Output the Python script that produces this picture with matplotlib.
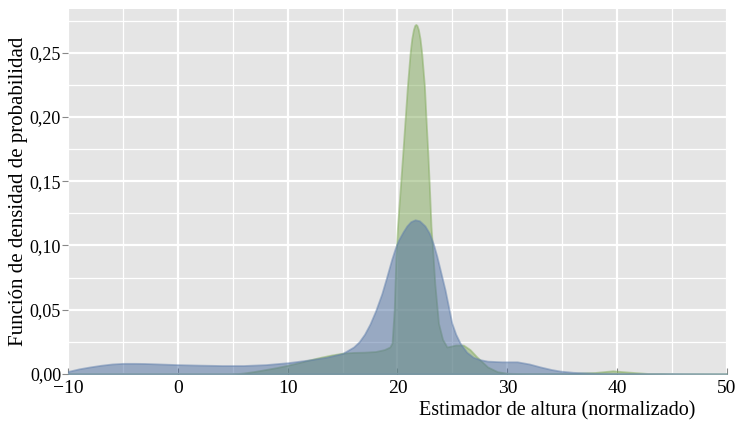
import numpy as np
import matplotlib
matplotlib.use("Agg")
import matplotlib.pyplot as plt
from matplotlib.ticker import MultipleLocator, FuncFormatter

# curvas de densidad
x_azul = [-10, -9, -8, -7, -6, -5, -4, -3, -2, -1, 0, 2, 4, 6, 8, 10, 12, 13.5, 15,
          16, 16.5, 17, 17.5, 18, 18.57, 19, 19.48, 19.8, 20.08, 20.5, 20.85, 21.2, 21.6,
          22.0, 22.5, 22.9, 23.27, 23.57, 24.0, 24.33, 24.65, 24.94, 25.3, 25.7, 26.3,
          26.9, 27.5, 28.2, 29.5, 30.9, 32, 33, 34, 34.8, 36, 38, 42, 46, 50]
y_azul = [0.002, 0.004, 0.0055, 0.0068, 0.0078, 0.0083, 0.0083, 0.0082, 0.0079, 0.0076,
          0.0073, 0.0069, 0.0066, 0.0066, 0.0073, 0.0088, 0.011, 0.013, 0.016,
          0.021, 0.025, 0.031, 0.039, 0.049, 0.0625, 0.075, 0.0895, 0.098, 0.104, 0.1105,
          0.1152, 0.1185, 0.12, 0.1192, 0.1152, 0.1095, 0.101, 0.092, 0.077, 0.0654,
          0.052, 0.0397, 0.031, 0.024, 0.017, 0.013, 0.0112, 0.010, 0.0095, 0.0095,
          0.0078, 0.0055, 0.0035, 0.0023, 0.0013, 0.0006, 0.0003, 0.0001, 0.0]

x_verde = [-10, 5, 6, 7, 8, 9, 10, 11, 12, 13, 14, 15, 16, 17, 18, 18.8, 19.3, 19.5,
           19.7, 19.85, 20.0, 20.24, 20.48, 20.69, 20.9, 21.15, 21.3, 21.45, 21.57, 21.67,
           21.77, 21.9, 22.05, 22.2, 22.45, 22.6, 22.76, 22.9, 23.05, 23.2, 23.4, 23.73,
           24.1, 24.5, 25.3, 26.0, 26.6, 27.2, 28.2, 29.1, 30, 32, 35, 38, 39.6, 41, 43,
           45, 50]
y_verde = [0.0, 0.0, 0.0008, 0.002, 0.0035, 0.005, 0.0068, 0.0088, 0.011, 0.013, 0.0148,
           0.0162, 0.0168, 0.017, 0.0175, 0.019, 0.021, 0.024, 0.05, 0.09, 0.115, 0.143,
           0.172, 0.198, 0.224, 0.25, 0.261, 0.268, 0.2712, 0.272, 0.2712, 0.268, 0.261,
           0.25, 0.224, 0.198, 0.172, 0.146, 0.115, 0.0966, 0.07, 0.0395, 0.027, 0.021,
           0.0225, 0.0225, 0.019, 0.0135, 0.0055, 0.0018, 0.0006, 0.0002, 0.0002, 0.0012,
           0.0025, 0.0015, 0.0003, 0.0, 0.0]

fuente = "Liberation Serif"
plt.rcParams['font.family'] = [fuente, 'DejaVu Serif']
plt.rcParams['axes.unicode_minus'] = True

fig = plt.figure(figsize=(7.39, 4.23), dpi=100)
ax = fig.add_axes([68/739, 1 - 374/423, 659/739, 365/423])
ax.set_facecolor('#e5e5e5')

verde = (0.51, 0.67, 0.36)
azul = (0.30, 0.43, 0.63)
ax.fill_between(x_verde, y_verde, 0, facecolor=verde, alpha=0.5,
                edgecolor=(0.51, 0.67, 0.36, 0.55), linewidth=1.3, zorder=3)
ax.fill_between(x_azul, y_azul, 0, facecolor=azul, alpha=0.5,
                edgecolor=(0.38, 0.50, 0.68, 0.7), linewidth=1.3, zorder=4)

ax.set_xlim(-10, 50)
ax.set_ylim(0, 0.284)

ax.xaxis.set_major_locator(MultipleLocator(10))
ax.xaxis.set_minor_locator(MultipleLocator(5))
ax.yaxis.set_major_locator(MultipleLocator(0.05))
ax.yaxis.set_minor_locator(MultipleLocator(0.025))
ax.yaxis.set_major_formatter(FuncFormatter(lambda v, p: f"{v:.2f}".replace('.', ',')))
ax.xaxis.set_major_formatter(FuncFormatter(lambda v, p: f"{int(round(v))}".replace('-', '\u2212')))

ax.grid(which='major', color='white', linewidth=1.6, zorder=1)
ax.grid(which='minor', color='white', linewidth=0.9, zorder=1)
ax.set_axisbelow(True)

for s in ax.spines.values():
    s.set_visible(False)

ax.tick_params(axis='x', which='major', direction='in', length=4, color='#888888',
               labelsize=14, pad=4)
ax.tick_params(axis='y', which='major', direction='out', length=4, color='#888888',
               labelsize=13, pad=1)
ax.tick_params(which='minor', length=0)

ax.set_ylabel('Función de densidad de probabilidad', fontsize=15, labelpad=1)
ax.set_xlabel('Estimador de altura (normalizado)', fontsize=14.5)
ax.xaxis.set_label_coords((557 - 68) / 659, -27 / 365)

fig.savefig('out.png', dpi=100)
